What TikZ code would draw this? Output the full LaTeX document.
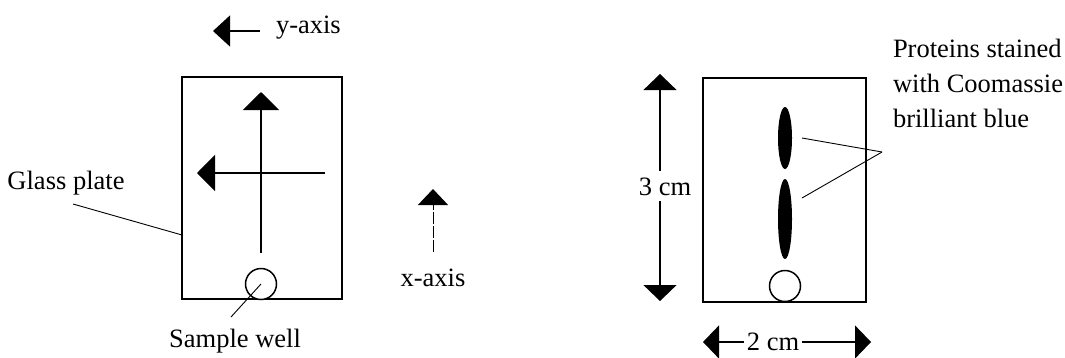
\documentclass[tikz,border=0pt]{standalone}
\usepackage{fontspec}
\setmainfont{Liberation Serif}
\usetikzlibrary{arrows.meta,shapes.geometric}
\begin{document}
\begin{tikzpicture}[x=1pt,y=-1pt,
  every node/.style={font=\fontsize{26.5}{35}\selectfont, inner sep=0pt, outer sep=0pt},
  plate/.style={draw, line width=1.8pt, rectangle},
  well/.style={draw, line width=1.5pt, circle, minimum size=31pt, fill=white},
  band/.style={fill=black, ellipse, minimum width=14pt},
  bigarrow/.style={line width=1.8pt, -{Triangle[length=18pt,width=36pt]}},
  dimarrow/.style={line width=1.2pt, {Triangle[length=16pt,width=33pt]}-{Triangle[length=16pt,width=33pt]}},
  leader/.style={line width=0.9pt},
  dimlabel/.style={fill=white, inner sep=4pt}]
\useasboundingbox (0,0) rectangle (1065,357);

% ---------- left plate ----------
\node[plate, minimum width=160pt, minimum height=222pt] (plateL) at (262,188) {};
\node[well] (wellL) at (261,284) {};
\coordinate (vS) at (261,253);
\coordinate (vE) at (261,92);
\coordinate (hS) at (325,173);
\coordinate (hE) at (197,173);
\draw[bigarrow] (vS) -- (vE);
\draw[bigarrow] (hS) -- (hE);

\node[anchor=base] (glass) at (66,189) {Glass plate};
\coordinate (glassA) at (73,204);
\coordinate (glassB) at (182,235);
\draw[leader] (glassA) -- (glassB);

\node[anchor=base] (sample) at (235,347) {Sample well};
\coordinate (sampleA) at (231,317);
\draw[leader] (sampleA) -- (wellL.center);

% ---------- axis labels ----------
\node[anchor=base west] (ylab) at (276,33) {y-axis};
\coordinate (yS) at (260,31);
\coordinate (yE) at (213,31);
\draw[line width=1.2pt, -{Triangle[length=17pt,width=31pt]}] (yS) -- (yE);

\node[anchor=base] (xlab) at (433,286) {x-axis};
\coordinate (xS) at (433,252);
\coordinate (xE) at (433,189);
\draw[line width=0.9pt, dash pattern=on 12pt off 2pt, -{Triangle[length=16pt,width=30pt]}] (xS) -- (xE);

% ---------- right plate ----------
\node[plate, minimum width=163pt, minimum height=224pt] (plateR) at (784.5,190) {};
\node[well] (wellR) at (785,286) {};
\node[band, minimum height=62pt] (band1) at (785,138) {};
\node[band, minimum height=80pt] (band2) at (785,219) {};

\node[anchor=base west, align=left] (prot) at (893,127) {Proteins stained\\with Coomassie\\brilliant blue};
\coordinate (protJ) at (882,152);
\coordinate (b1A) at (802,138);
\coordinate (b2A) at (802,198);
\draw[leader] (b1A) -- (protJ);
\draw[leader] (b2A) -- (protJ);

% 3 cm dimension
\coordinate (dimT) at (660,74);
\coordinate (dimB) at (660,301);
\draw[dimarrow] (dimT) -- (dimB);
\node[dimlabel, anchor=base, inner ysep=6pt] (three) at (665,195) {3 cm};

% 2 cm dimension
\coordinate (dimL) at (703,342);
\coordinate (dimR) at (871,342);
\draw[dimarrow] (dimL) -- (dimR);
\node[dimlabel, anchor=base, inner xsep=3pt] (two) at (773,350) {2 cm};
\end{tikzpicture}
\end{document}
